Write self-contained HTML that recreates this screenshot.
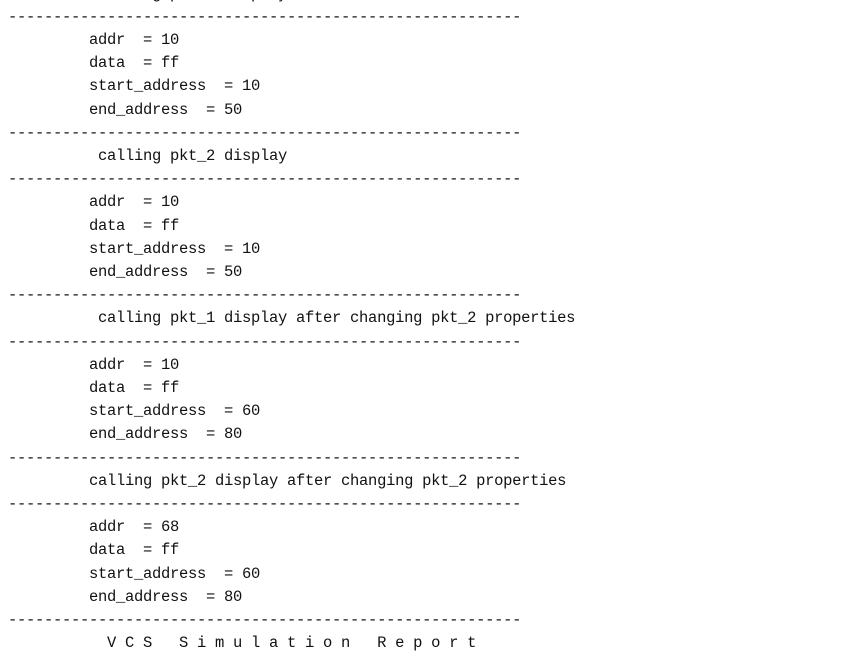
<!DOCTYPE html>
<html><head><style>
html,body{margin:0;padding:0;background:#fff;width:843px;height:651px;overflow:hidden}
pre{position:absolute;left:8px;top:-17.4px;margin:0;font-family:"Liberation Mono",monospace;font-size:15.5px;letter-spacing:-0.3px;line-height:23.2px;color:#111}
</style></head><body>
<pre>          calling pkt_1 display
---------------------------------------------------------
         addr  = 10
         data  = ff
         start_address  = 10
         end_address  = 50
---------------------------------------------------------
          calling pkt_2 display
---------------------------------------------------------
         addr  = 10
         data  = ff
         start_address  = 10
         end_address  = 50
---------------------------------------------------------
          calling pkt_1 display after changing pkt_2 properties
---------------------------------------------------------
         addr  = 10
         data  = ff
         start_address  = 60
         end_address  = 80
---------------------------------------------------------
         calling pkt_2 display after changing pkt_2 properties
---------------------------------------------------------
         addr  = 68
         data  = ff
         start_address  = 60
         end_address  = 80
---------------------------------------------------------
           V C S   S i m u l a t i o n   R e p o r t
</pre>
</body></html>
